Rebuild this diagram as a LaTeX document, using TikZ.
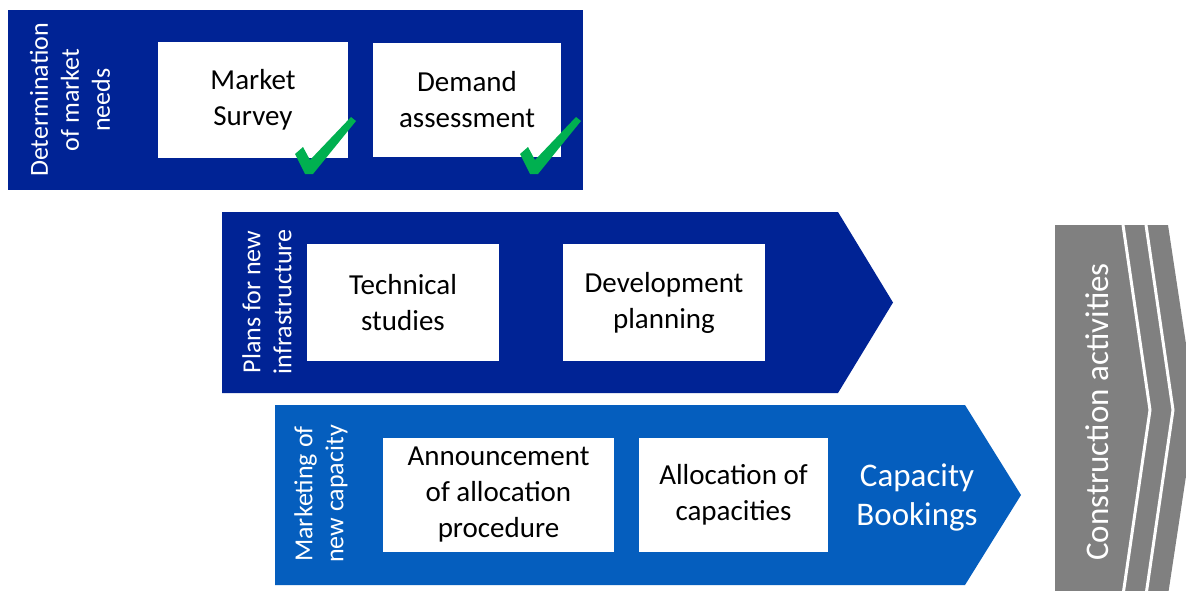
\documentclass[tikz,border=0pt]{standalone}
\usepackage{fontspec}
\setmainfont{Carlito}
\definecolor{darkblue}{HTML}{002395}
\definecolor{midblue}{HTML}{055EBE}
\definecolor{buildgrey}{HTML}{808080}
\definecolor{tickgreen}{HTML}{00B050}
\tikzset{
  task/.style={fill=white, align=center, inner sep=0pt, font=\fontsize{29}{36}\selectfont},
  phase/.style={rotate=90, align=center, text=white, font=\fontsize{26}{31}\selectfont},
  tick/.style={fill=tickgreen},
}
\begin{document}
\begin{tikzpicture}[x=1pt,y=-1pt]
\clip (0,0) rectangle (1186,590);
\fill[white] (0,0) rectangle (1186,590);

% stages
\fill[darkblue] (8,10) rectangle (583,190);
\fill[darkblue] (222,212) -- (838,212) -- (893,302.5) -- (838,393) -- (222,393) -- cycle;
\fill[midblue] (275,405) -- (965,405) -- (1021,495) -- (965,585) -- (275,585) -- cycle;
\fill[buildgrey] (1055,225) -- (1168,225) -- (1196,410) -- (1168,595) -- (1055,595) -- cycle;
\draw[white, line width=3pt] (1123,225) -- (1150,410) -- (1123,595);
\draw[white, line width=3pt] (1146,225) -- (1173,410) -- (1146,595);

\node[phase] (needs) at (70,100) {Determination\\of market\\needs};
\node[phase] (plans) at (267,302) {Plans for new\\infrastructure};
\node[phase] (marketing) at (321,494) {Marketing of\\new capacity};

\node[task, minimum width=190pt, minimum height=116pt] (survey) at (253,100) {Market\\Survey};
\node[task, minimum width=188pt, minimum height=114pt] (demand) at (467,100) {Demand\\assessment};
\node[task, minimum width=192pt, minimum height=117pt] (technical) at (403,302.5) {Technical\\studies};
\node[task, minimum width=202pt, minimum height=117pt] (development) at (664,302.5) {Development\\planning};
\node[task, minimum width=231pt, minimum height=114pt] (announce) at (498.5,495) {Announcement\\of allocation\\procedure};
\node[task, minimum width=189pt, minimum height=114pt] (allocate) at (733.5,495) {Allocation of\\capacities};

\node[align=center, text=white, font=\fontsize{33}{39}\selectfont] (bookings) at (917,497) {Capacity\\Bookings};
\node[rotate=90, text=white, font=\fontsize{33}{39}\selectfont] (construction) at (1097,412) {Construction activities};

% ticks
\fill[tick] (295,154) -- (303,147) -- (310,160) -- (351,117) -- (356,121) -- (313,174) -- (305,174) -- cycle;
\fill[tick, shift={(225,0)}] (295,154) -- (303,147) -- (310,160) -- (351,117) -- (356,121) -- (313,174) -- (305,174) -- cycle;
\end{tikzpicture}
\end{document}
